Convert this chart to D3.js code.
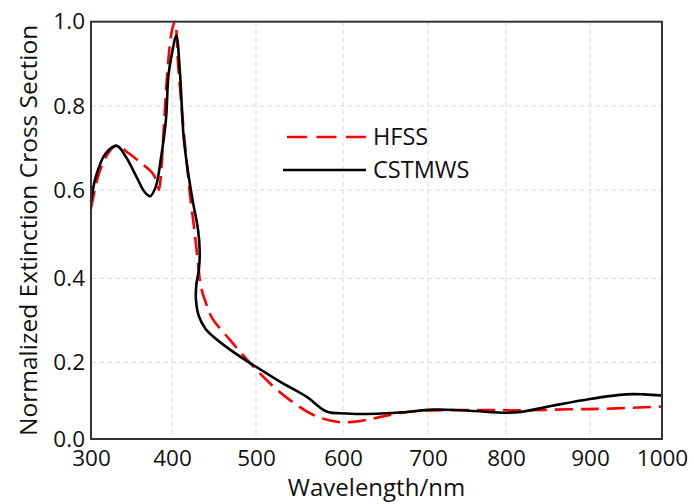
<!DOCTYPE html>
<html>
<head>
<meta charset="utf-8">
<script src="https://cdn.jsdelivr.net/npm/d3@7"></script>
<style>
  html, body { margin: 0; padding: 0; background: #fff; }
  svg { display: block; }
  text { font-family: "Open Sans", "Noto Sans", sans-serif; fill: #111; }
</style>
</head>
<body>
<svg id="chart" width="694" height="504"></svg>
<script>
// Axis ticks
const wavelengthTicks = [300, 400, 500, 600, 700, 800, 900, 1000];
const valueTicks = [0, 0.2, 0.4, 0.6, 0.8, 1.0];

// HFSS simulation (normalized extinction cross section vs wavelength in nm)
const hfssWavelength = [300, 310, 321, 331, 347, 362, 376, 382, 384, 386.5, 389, 391.5, 393.5, 396.5, 400, 403.5,
  407.5, 413.5, 418, 422, 426, 430.5, 434.5, 440.5, 448, 469, 493, 516, 539, 566, 593, 612, 632, 644, 667, 690,
  753, 794, 818, 876, 914, 960, 1000];
const hfssValue = [0.558, 0.64, 0.687, 0.706, 0.687, 0.664, 0.640, 0.616, 0.600, 0.64, 0.72, 0.80, 0.86, 0.93, 0.98, 1.0,
  0.893, 0.751, 0.655, 0.58, 0.52, 0.443, 0.38, 0.341, 0.305, 0.254, 0.199, 0.146, 0.102, 0.063, 0.045, 0.045, 0.052, 0.058, 0.068, 0.074,
  0.076, 0.076, 0.075, 0.078, 0.079, 0.082, 0.085];

// CST Microwave Studio simulation
const cstWavelength = [300, 306, 318, 332, 343, 356, 366, 373, 380, 386, 392.5, 395.5, 400, 405, 409.5, 413.5,
  417.5, 424.5, 431, 433, 432, 429, 428.5, 432, 440, 449, 469, 493, 528, 558, 581, 604, 640, 670, 706, 753,
  800, 818, 855, 900, 950, 975, 1000];
const cstValue = [0.573, 0.632, 0.687, 0.705, 0.679, 0.632, 0.596, 0.586, 0.608, 0.671, 0.767, 0.87, 0.925, 0.968, 0.878, 0.735,
  0.665, 0.577, 0.51, 0.46, 0.42, 0.385, 0.35, 0.31, 0.28, 0.262, 0.231, 0.199, 0.150, 0.111, 0.072, 0.067, 0.066, 0.070, 0.077, 0.074,
  0.069, 0.071, 0.087, 0.105, 0.117, 0.117, 0.114];

const seriesNames = ["HFSS", "CSTMWS"];

const svg = d3.select("#chart");

// Gridline spacing of the plot frame is not perfectly even, so the scales are piecewise linear
const x = d3.scaleLinear().domain(wavelengthTicks).range([91, 172, 256, 343, 428, 506, 590, 662]);
const y = d3.scaleLinear().domain(valueTicks).range([439, 362.7, 278.3, 190, 106, 21.7]);

const plotLeft = x(300), plotRight = x(1000), plotTop = y(1), plotBottom = y(0);

// Grid
const grid = svg.append("g").attr("class", "grid");
grid.selectAll("line.v")
  .data(wavelengthTicks.slice(1, -1))
  .join("line")
  .attr("x1", d => x(d)).attr("x2", d => x(d))
  .attr("y1", plotTop).attr("y2", plotBottom)
  .attr("stroke", "#d9d9d9").attr("stroke-width", 1).attr("stroke-dasharray", "5,3");
grid.selectAll("line.h")
  .data(valueTicks.slice(1, -1))
  .join("line")
  .attr("x1", plotLeft).attr("x2", plotRight)
  .attr("y1", d => y(d)).attr("y2", d => y(d))
  .attr("stroke", "#d9d9d9").attr("stroke-width", 1).attr("stroke-dasharray", "5,3");

// Axes (labels only, no tick marks)
const xAxis = svg.append("g")
  .attr("transform", `translate(0,${plotBottom})`)
  .call(d3.axisBottom(x).tickValues(wavelengthTicks).tickSize(0).tickPadding(11).tickFormat(d3.format("d")));
xAxis.select(".domain").remove();
xAxis.selectAll("text").attr("font-size", 22.5).attr("font-family", "Open Sans").attr("fill", "#111");

const yAxis = svg.append("g")
  .attr("transform", `translate(${plotLeft},0)`)
  .call(d3.axisLeft(y).tickValues(valueTicks).tickSize(0).tickPadding(6).tickFormat(d3.format(".1f")));
yAxis.select(".domain").remove();
yAxis.selectAll("text").attr("font-size", 22.5).attr("font-family", "Open Sans").attr("fill", "#111");

// Curves
const line = d3.line()
  .x(d => x(d[0]))
  .y(d => y(d[1]))
  .curve(d3.curveCatmullRom.alpha(0.5));

const hfss = hfssWavelength.map((w, i) => [w, hfssValue[i]]);
const cst = cstWavelength.map((w, i) => [w, cstValue[i]]);

svg.append("path")
  .datum(hfss)
  .attr("d", line)
  .attr("fill", "none")
  .attr("stroke", "#ff0000")
  .attr("stroke-width", 2.6)
  .attr("stroke-dasharray", "18,8");

svg.append("path")
  .datum(cst)
  .attr("d", line)
  .attr("fill", "none")
  .attr("stroke", "#000")
  .attr("stroke-width", 2.6);

// Plot frame
svg.append("rect")
  .attr("x", plotLeft).attr("y", plotTop)
  .attr("width", plotRight - plotLeft).attr("height", plotBottom - plotTop)
  .attr("fill", "none").attr("stroke", "#333").attr("stroke-width", 2);

// Axis titles
svg.append("text")
  .attr("x", (plotLeft + plotRight) / 2)
  .attr("y", 496)
  .attr("text-anchor", "middle")
  .attr("font-size", 24)
  .text("Wavelength/nm");

svg.append("text")
  .attr("transform", `translate(37,${(plotTop + plotBottom) / 2}) rotate(-90)`)
  .attr("text-anchor", "middle")
  .attr("font-size", 24.5)
  .text("Normalized Extinction Cross Section");

// Legend
const legend = svg.append("g");
const legendRows = [
  { name: seriesNames[0], color: "#ff0000", dash: "20,9.5", y: 137, x1: 287 },
  { name: seriesNames[1], color: "#000", dash: null, y: 170, x1: 283 }
];
legendRows.forEach(r => {
  legend.append("line")
    .attr("x1", r.x1).attr("x2", 366)
    .attr("y1", r.y).attr("y2", r.y)
    .attr("stroke", r.color).attr("stroke-width", 2.6)
    .attr("stroke-dasharray", r.dash);
  legend.append("text")
    .attr("x", 373).attr("y", r.y)
    .attr("dy", "0.35em")
    .attr("font-size", 23.5)
    .text(r.name);
});
</script>
</body>
</html>
